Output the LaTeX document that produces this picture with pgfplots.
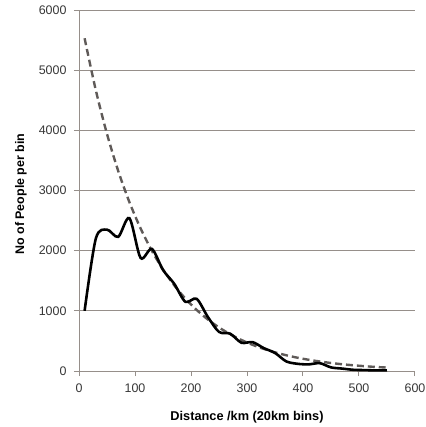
\documentclass[border=0pt]{standalone}
\usepackage{pgfplots}
\pgfplotsset{compat=1.18}
\usepackage{fontspec}
\setmainfont{Liberation Sans}
\definecolor{gridc}{RGB}{150,143,138}
\definecolor{dashc}{RGB}{95,90,88}
\definecolor{txt}{RGB}{55,55,55}
\begin{document}
\begin{tikzpicture}
\useasboundingbox (-79bp,-56bp) rectangle (347bp,371bp);
\begin{axis}[
  at={(0,0)}, anchor=south west,
  scale only axis, width=336bp, height=361bp,
  xmin=0, xmax=600, ymin=0, ymax=6000,
  xtick={0,100,...,600}, ytick={0,1000,...,6000},
  axis lines=left, axis line style={gridc, line width=1pt, -},
  ymajorgrids, grid style={gridc, line width=1pt},
  tick style={gridc, line width=1pt},
  tick align=outside, major tick length=5bp,
  scaled ticks=false,
  /pgf/number format/assume math mode=true,
  /pgf/number format/1000 sep={},
  tick label style={font=\fontsize{12.5}{14}\selectfont, text=txt},
  yticklabel style={xshift=-4bp},
  xticklabel style={yshift=-4bp},
  xlabel={\textbf{Distance /km (20km bins)}},
  ylabel={\textbf{No of People per bin}},
  every axis x label/.style={at={([yshift=-46bp]rel axis cs:0.5,0)}, anchor=center,
     font=\fontsize{12.8}{14}\selectfont, text=black},
  every axis y label/.style={at={([xshift=-58bp]rel axis cs:0,0.49)}, anchor=center, rotate=90,
     font=\fontsize{12.5}{14}\selectfont, text=black},
  clip=false,
]
\addplot[dashc, line width=2.4pt, dash pattern=on 7pt off 4pt, smooth] coordinates {
(10,5530) (30,4668) (50,3940) (70,3326) (90,2807) (110,2370) (130,2000)
(150,1688) (170,1425) (190,1203) (210,1016) (230,857) (250,724) (270,611)
(290,516) (310,435) (330,367) (350,310) (370,262) (390,221) (410,187)
(430,158) (450,133) (470,112) (490,95) (510,80) (530,67) (550,57)};
\addplot[black, line width=2.6pt, smooth, tension=0.5] coordinates {
(10,1000) (30,2200) (50,2350) (70,2230) (90,2540) (110,1880) (130,2030)
(150,1680) (170,1450) (190,1150) (210,1200) (230,900) (250,650) (270,620)
(290,470) (310,480) (330,380) (350,300) (370,160) (390,120) (410,110)
(430,130) (450,60) (470,40) (490,20) (510,15) (530,10) (550,10)};
\end{axis}
\end{tikzpicture}
\end{document}
